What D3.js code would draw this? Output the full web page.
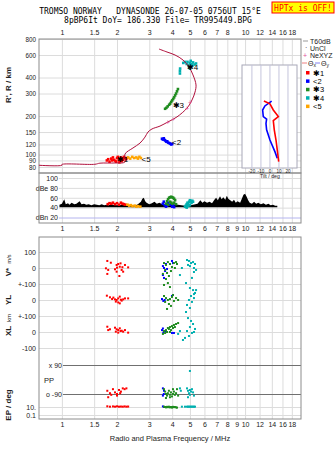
<!DOCTYPE html>
<html><head><meta charset="utf-8">
<script src="https://cdn.jsdelivr.net/npm/d3@7"></script>
<style>
body{margin:0;background:#fff}
svg{display:block;font-family:"Liberation Sans",Arial,sans-serif}
.tk text{font-size:7px;fill:#222}
.tk path{display:none}
.hy text{font-size:6.3px}
.grid line{stroke:#dcdcdc}
.grid path{display:none}
.mono{font-family:"DejaVu Sans Mono",monospace;white-space:pre;font-size:8px}
</style></head><body>
<svg width="335" height="451"></svg>
<script>
// tick labels
var topTicks = [1,1.5,2,3,4,5,6,7,8,10,12,14,16,18];
var botTicks = [1,1.5,2,3,4,5,6,7,8,9,10,12,14,16,18];
var hTicks = [80,90,100,120,150,200,300,400,600,800];
var dbTicks = [100,80,60,40,20];
var dbLabels = ["100","dBe 80","60","40","dBn 20"];
var tiltTicks = [-20,-10,0,10,20];

// real height profile (MHz, km)
var profileF = [0.749,1.0,1.0,1.514,1.613,1.948,2.21,2.21,2.443,2.669,2.842,2.951,3.103,3.432,3.795,4.25,4.822,5.133,5.331,5.398,5.197,4.943,4.584,4.145,3.748,3.389];
var profileH = [82.5,82.5,83.7,84.0,85.7,86.0,87.6,101,112.6,123,137,150,158.5,167,180,197,231,267,308,350,419,483,548,600,633,668];
var neXYZ = [[3.79,178],[4.05,188],[4.82,231],[5.0,255]];

// echoes, virtual range (MHz, km)
var echo1 = [[1.76,90],[1.79,92],[1.82,88],[1.86,93],[1.9,95],[1.93,91],[1.96,89],[2.0,94],[2.02,96],[2.05,92],[2.08,90],[2.1,95],[2.13,93],[2.16,91],[2.2,94],[2.24,92],[2.27,94],[1.98,88],[2.06,87],[2.12,89],[1.88,90],[2.18,96]];
var echo2 = [[3.52,133],[3.56,131],[3.6,134],[3.64,130],[3.68,128],[3.72,126],[3.76,127],[3.8,124],[3.85,123],[3.9,122],[3.95,120],[4.0,121]];
var echo3 = [[3.66,228],[3.72,232],[3.78,238],[3.85,245],[3.9,250],[3.95,258],[4.0,265],[4.05,272],[4.1,280],[4.15,290],[4.2,300],[4.25,312],[4.3,325]];
var echo4 = [[4.41,450],[4.41,430],[4.42,470],[4.6,520],[4.7,530],[4.8,510],[4.9,500],[5.0,520],[5.05,540],[5.1,510],[5.15,495],[5.2,525],[5.3,505],[5.4,515],[4.95,480],[5.0,470],[4.85,530]];
var echo5 = [[2.3,95],[2.36,93],[2.42,96],[2.48,94],[2.55,95],[2.6,93],[2.65,96],[2.7,94]];

// tilt (deg, km)
var thetaX = [[-6.7,262],[0,249],[3.7,223],[9.3,198],[3.7,184],[4.8,156],[6.7,130],[8.1,109],[9.7,88]];
var thetaY = [[1.9,262],[-5.6,240],[-8.1,223],[-7.4,198],[-3.7,189],[-4.4,175],[-3.7,156],[0,130],[5.6,105],[8.1,93.5]];

// noise (MHz, dB)
var noise = [[0.97,46],[1.0,48],[1.03,57],[1.05,47],[1.08,49],[1.1,46],[1.13,50],[1.17,47],[1.2,48],[1.25,53],[1.28,47],[1.32,48],[1.36,46],[1.4,47],[1.45,45],[1.5,47],[1.55,46],[1.6,45],[1.65,47],[1.7,45],[1.75,46],[1.8,45],[1.85,47],[1.9,46],[2.0,45],[2.1,46],[2.2,45],[2.3,44],[2.4,45],[2.5,44],[2.6,47],[2.7,52],[2.75,58],[2.8,60],[2.85,53],[2.9,50],[3.0,47],[3.1,49],[3.2,52],[3.3,48],[3.4,50],[3.5,48],[3.6,47],[3.8,46],[4.0,47],[4.3,46],[4.5,45],[4.7,44],[4.9,45],[5.2,46],[5.5,48],[5.7,55],[5.85,50],[6.0,53],[6.2,50],[6.4,52],[6.6,49],[6.8,56],[6.95,60],[7.1,55],[7.3,63],[7.45,57],[7.6,61],[7.8,56],[7.95,64],[8.1,58],[8.3,55],[8.5,52],[8.7,56],[8.9,50],[9.1,53],[9.4,50],[9.6,58],[9.8,66],[10.0,68],[10.2,62],[10.4,55],[10.6,50],[10.9,48],[11.2,52],[11.5,48],[11.8,50],[12.2,47],[12.6,49],[13.0,46],[13.4,48],[13.8,45],[14.2,46],[14.6,44],[15.0,44]];
var amp1 = [[1.78,47],[1.82,49],[1.86,48],[1.9,50],[1.95,47],[2.0,49],[2.05,46],[2.1,50],[2.14,48],[2.18,47],[2.22,46]];
var amp2 = [[3.56,48],[3.6,52],[3.64,45],[3.7,42],[3.75,44],[3.8,50],[3.9,46],[4.0,42],[4.05,44],[4.1,41]];
var amp3 = [[3.7,48],[3.75,53],[3.8,57],[3.85,60],[3.9,61],[3.95,62],[4.0,61],[4.05,60],[4.1,58],[4.15,55],[3.9,52],[3.95,50],[4.0,48],[4.1,50],[4.2,47],[3.8,46]];
var amp4 = [[4.7,42],[4.75,44],[4.8,47],[4.85,50],[4.9,48],[4.95,52],[5.0,55],[5.05,53],[5.1,50],[5.15,54],[5.2,52],[4.9,43],[5.0,45],[4.8,40]];
var amp5 = [[2.28,46],[2.33,44],[2.38,45],[2.43,43],[2.5,44],[2.55,42],[2.6,43],[2.68,42]];

// velocity V* (m/s), YL, XL (km)
var vel1 = [[1.77,44],[1.85,33],[1.74,-2],[1.79,-12],[1.77,-37],[1.95,-8],[1.99,19],[2.03,25],[2.07,8],[2.12,-12],[2.06,-50],[2.16,-23],[2.21,19],[2.30,4],[1.99,-23],[2.09,29],[2.0,2],[2.14,5]];
var vel2 = [[3.56,12],[3.61,0],[3.66,-19],[3.56,-44],[3.70,25],[3.99,44],[4.04,31],[3.61,-62],[3.75,-6]];
var vel3 = [[3.61,31],[3.70,19],[3.79,37],[3.89,25],[3.99,6],[4.09,31],[4.20,37],[3.66,-12],[3.75,-31],[3.84,-50],[3.94,-19],[3.70,-69],[3.79,-94],[3.89,-119],[3.61,-106],[4.14,0],[4.25,25],[3.56,-37]];
var vel4 = [[4.82,50],[4.94,44],[5.07,31],[5.20,37],[5.33,25],[5.00,12],[5.26,0],[5.40,-12],[4.52,0],[4.41,-44],[5.13,-62],[4.76,-94],[5.26,-25],[4.88,19]];
var yl1 = [[1.76,27],[1.83,17],[1.91,15],[1.95,4],[1.99,0],[2.03,10],[2.07,21],[2.12,-4],[2.16,4],[2.21,10],[2.30,10],[2.07,-21],[1.97,-10],[2.03,-15],[2.1,2],[1.88,6]];
var yl2 = [[3.52,6],[3.58,-6],[3.64,0],[4.04,31],[3.99,25]];
var yl3 = [[3.61,25],[3.70,12],[3.79,0],[3.89,6],[3.99,19],[4.09,-6],[4.20,12],[3.66,-12],[3.84,-25],[3.94,-37],[3.75,-56],[4.04,31],[4.31,0]];
var yl4 = [[5.00,75],[5.20,62],[5.33,44],[5.07,25],[5.26,12],[4.94,0],[5.13,-12],[4.82,-31],[5.00,-50],[4.76,-75],[5.26,37],[5.40,62]];
var xl1 = [[1.77,33],[1.83,17],[1.79,12],[1.95,27],[1.99,17],[2.03,12],[2.07,23],[2.12,8],[2.16,2],[2.21,12],[2.30,-4],[2.03,-4],[1.97,2],[2.09,6]];
var xl2 = [[3.52,12],[3.58,-4],[3.66,6],[3.99,-6],[4.09,-6],[3.56,22]];
var xl3 = [[3.61,6],[3.70,12],[3.79,25],[3.89,31],[3.99,37],[4.09,44],[4.20,50],[4.31,56],[3.66,-6],[3.75,0],[3.84,19],[3.94,12],[4.04,25],[4.14,31],[3.56,-12],[3.89,0]];
var xl4 = [[4.88,87],[5.07,69],[5.20,50],[5.00,31],[5.33,19],[4.82,6],[5.13,-6],[4.94,-25],[4.70,-37],[4.58,-50],[4.41,6],[4.31,-12],[5.26,0]];

// polarization PP (deg) and EP (deg)
var pp1 = [[1.77,-70],[1.83,-85],[1.9,-60],[1.95,-80],[2.0,-90],[2.05,-65],[2.1,-75],[2.15,-55],[2.2,-60],[2.25,-55],[1.79,-110],[2.0,-100],[1.86,-95],[2.08,-85]];
var pp2 = [[3.56,-55],[3.61,-70],[3.56,-100],[3.6,-90]];
var pp3 = [[3.61,-60],[3.66,-75],[3.70,-90],[3.75,-100],[3.79,-85],[3.84,-70],[3.89,-95],[3.94,-80],[3.99,-105],[4.04,-90],[4.09,-75],[4.14,-95],[4.20,-85],[4.25,-60],[4.31,-100],[3.70,-115],[3.89,-110],[4.04,-60]];
var pp4 = [[4.41,-55],[4.46,-70],[4.82,-55],[4.88,-70],[4.94,-85],[5.0,-95],[5.07,-75],[5.13,-60],[5.2,-80],[5.26,-100],[4.88,-110],[5.0,-65],[5.0,53]];
var ep1 = [[1.77,15],[1.83,12],[1.9,14],[1.95,12],[2.0,15],[2.05,12],[2.1,13],[2.15,12],[2.2,14],[2.25,12],[2.3,13]];
var ep2 = [[3.56,14],[3.61,10]];
var ep3 = [[3.61,12],[3.66,10],[3.70,8],[3.75,11],[3.79,9],[3.84,12],[3.89,8],[3.94,10],[3.99,7],[4.04,11],[4.09,9],[4.14,10],[4.20,8],[4.25,7]];
var ep4 = [[4.52,12],[4.70,12],[4.82,12],[4.88,12],[4.94,12],[5.0,12],[5.07,12],[5.13,12],[5.2,12],[5.26,12],[5.33,12]];

var modeNames = ["✱1","<2","✱3","✱4","<5"];
var modeColors = ["#ff0000","#0000ff","#1f8c1f","#00b0b0","#ffa500"];

var svg = d3.select("svg");
var L = 39, R = 301;

var x = d3.scaleLog().domain([0.75, 20.2]).range([L, R]);
var yH = d3.scaleLog().domain([71.8, 800]).range([173, 39]);
var yDb = d3.scaleLinear().domain([100, 20]).range([178, 217.5]);
var yV = d3.scaleLinear().domain([100, -100]).range([252, 284]);
var yY = d3.scaleLinear().domain([100, -100]).range([284, 316]);
var yX = d3.scaleLinear().domain([100, -100]).range([316, 348]);
var yPP = d3.scaleLinear().domain([90, -90]).range([365, 394]);
var yEP = d3.scaleLog().domain([10, 0.1]).range([407, 415]);
var xT = d3.scaleLinear().domain([-31, 30]).range([242, 297]);

// vertical grids
[[39,134],[173,50],[237,182]].forEach(function(p) {
  svg.append("g").attr("class","grid")
    .attr("transform","translate(0,"+p[0]+")")
    .call(d3.axisBottom(x).tickValues(botTicks).tickSize(p[1]).tickFormat(""));
});

// top panel horizontal grid + labels
svg.append("g").attr("class","grid tk hy")
  .attr("transform","translate("+L+",0)")
  .call(d3.axisLeft(yH).tickValues(hTicks).tickSize(-(R-L)).tickPadding(3).tickFormat(d3.format("d")));

// dB panel
var gdb = svg.append("g").attr("class","grid tk")
  .attr("transform","translate(59,0)")
  .call(d3.axisLeft(yDb).tickValues(dbTicks).tickSize(-(R-59)).tickPadding(1)
    .tickFormat(function(d,i){ return dbLabels[i]; }));
gdb.selectAll("line").filter(function(d){ return d == 20; }).style("stroke","#b4b4ee");

// velocity panel grids
function lowAxis(sc, vals, labs) {
  svg.append("g").attr("class","grid tk")
    .attr("transform","translate("+L+",0)")
    .call(d3.axisLeft(sc).tickValues(vals).tickSize(-(R-L)).tickPadding(3)
      .tickFormat(function(d,i){ return labs[i]; }));
}
lowAxis(yV, [100,0], ["100","0"]);
lowAxis(yY, [100,0], ["+-100","0"]);
lowAxis(yX, [100,0,-100], ["+-100","0","-100"]);
lowAxis(yEP, [10,0.1], ["10.","0.1"]);

var gpp = svg.append("g").attr("class","tk")
  .attr("transform","translate(63,0)")
  .call(d3.axisLeft(yPP).tickValues([90,-90]).tickSize(-(R-63)).tickPadding(1)
    .tickFormat(function(d){ return d > 0 ? "x 90" : "o -90"; }));
gpp.selectAll("line").style("stroke","#707070");

// frames
[[39,173],[173,223],[237,419]].forEach(function(p) {
  svg.append("rect").attr("x",L).attr("y",p[0]).attr("width",R-L).attr("height",p[1]-p[0])
    .attr("fill","none").attr("stroke","#8c8c8c");
});

// frequency labels
svg.append("g").attr("class","tk").attr("transform","translate(0,39)")
  .call(d3.axisTop(x).tickValues(topTicks).tickSize(0).tickPadding(4).tickFormat(function(d){ return d; }));
[223, 419].forEach(function(yy) {
  svg.append("g").attr("class","tk").attr("transform","translate(0,"+yy+")")
    .call(d3.axisBottom(x).tickValues(botTicks).tickSize(0).tickPadding(3).tickFormat(function(d){ return d; }));
});

// tilt inset
var inset = svg.append("g");
inset.append("rect").attr("x",xT(-31)).attr("y",65).attr("width",xT(30)-xT(-31)).attr("height",103)
  .attr("fill","#fff").attr("stroke","#a8a8b8");
inset.selectAll("line.tg").data(tiltTicks).enter().append("line")
  .attr("x1",function(d){ return xT(d); }).attr("x2",function(d){ return xT(d); })
  .attr("y1",65).attr("y2",168).attr("stroke","#c4c4dc");
inset.selectAll("text.tl").data(tiltTicks).enter().append("text")
  .attr("x",function(d){ return xT(d); }).attr("y",172.5).attr("text-anchor","middle")
  .attr("font-size",4.6).attr("fill","#222").text(function(d){ return d; });
inset.append("text").attr("x",xT(0)).attr("y",178).attr("text-anchor","middle")
  .attr("font-size",5.2).attr("fill","#222").text("Tilt / deg");
var tiltLine = d3.line().x(function(d){ return xT(d[0]); }).y(function(d){ return yH(d[1]); });
inset.append("path").attr("d",tiltLine(thetaY)).attr("fill","none").attr("stroke","#0000ff").attr("stroke-width",1.6);
inset.append("path").attr("d",tiltLine(thetaX)).attr("fill","none").attr("stroke","#ff0000").attr("stroke-width",1.6);

// echo dots helper
function dots(data, ys, col, sz) {
  sz = sz || 2;
  svg.append("g").selectAll("rect").data(data).enter().append("rect")
    .attr("x",function(d){ return x(d[0]) - sz/2; })
    .attr("y",function(d){ return ys(d[1]) - sz/2; })
    .attr("width",sz).attr("height",sz).attr("fill",col);
}

// top panel echoes
var echoes = [echo1, echo2, echo3, echo4, echo5];
echoes.forEach(function(e, i){ dots(e, yH, modeColors[i], 2.6); });

// profile curve
var prof = profileF.map(function(f, i){ return [f, profileH[i]]; });
svg.append("path")
  .attr("d", d3.line().x(function(d){ return x(d[0]); }).y(function(d){ return yH(d[1]); }).curve(d3.curveCatmullRom)(prof))
  .attr("fill","none").attr("stroke","#b0103c").attr("stroke-width",1);
svg.selectAll("text.ne").data(neXYZ).enter().append("text")
  .attr("x",function(d){ return x(d[0]); }).attr("y",function(d){ return yH(d[1]) + 2.5; })
  .attr("text-anchor","middle").attr("font-size",7).attr("fill","#e0509a").text("+");

// mode labels
var modeLab = [[1.99,87,"✱1"],[3.99,118,"<2"],[4.02,230,"✱3"],[4.8,455,"✱4"],[2.72,88,"<5"]];
svg.selectAll("text.ml").data(modeLab).enter().append("text")
  .attr("x",function(d){ return x(d[0]); }).attr("y",function(d){ return yH(d[1]); })
  .attr("font-size",8).attr("fill","#000").text(function(d){ return d[2]; });

// noise + amplitudes
svg.append("path")
  .attr("d", d3.area().x(function(d){ return x(d[0]); }).y0(yDb(41)).y1(function(d){ return yDb(d[1]); })(noise))
  .attr("fill","#000");
[amp1, amp2, amp3, amp4, amp5].forEach(function(a, i){ dots(a, yDb, modeColors[i], 2.6); });

// lower panel
[[vel1,yl1,xl1,pp1,ep1],[vel2,yl2,xl2,pp2,ep2],[vel3,yl3,xl3,pp3,ep3],[vel4,yl4,xl4,pp4,ep4]].forEach(function(s, i){
  dots(s[0], yV, modeColors[i]);
  dots(s[1], yY, modeColors[i]);
  dots(s[2], yX, modeColors[i]);
  dots(s[3], yPP, modeColors[i]);
  dots(s[4], yEP, modeColors[i]);
});

// left titles
function vlab(tx, yy, sz, bold) {
  svg.append("text").attr("transform","translate(11,"+yy+") rotate(-90)")
    .attr("text-anchor","middle").attr("font-size",sz).attr("font-weight",bold ? "bold" : "normal")
    .attr("fill","#222").text(tx);
}
vlab("R', R / km", 85, 8, true);
vlab("V*", 272, 8, true);
vlab("m/s", 259, 5.5, false);
vlab("YL", 300, 8, true);
vlab("km", 318, 6, false);
vlab("XL", 331, 8, true);
vlab("EP / deg", 405, 8, true);
svg.append("text").attr("x",44).attr("y",383).attr("font-size",7.5).attr("fill","#222").text("PP");

svg.append("text").attr("x",170).attr("y",441).attr("text-anchor","middle")
  .attr("font-size",7.5).attr("fill","#222").text("Radio and Plasma Frequency / MHz");

// title
svg.append("text").attr("class","mono").attr("x",150).attr("y",14).attr("text-anchor","middle")
  .text("TROMSO NORWAY   DYNASONDE 26-07-05 0756UT 15°E");
svg.append("text").attr("class","mono").attr("x",158).attr("y",22.5).attr("text-anchor","middle")
  .text("8pBP6It DoY= 186.330 File= TR995449.BPG");
svg.append("rect").attr("x",272).attr("y",2).attr("width",62).attr("height",11)
  .attr("fill","#ffff00").attr("stroke","#ff0000");
svg.append("text").attr("class","mono").attr("x",303).attr("y",10.5).attr("text-anchor","middle")
  .attr("fill","#ff0000").text("HPTx is OFF!");

// legend
var lg = svg.append("g").attr("font-size",7).attr("fill","#222");
lg.append("line").attr("x1",303).attr("x2",308).attr("y1",41).attr("y2",41).attr("stroke","#999");
lg.append("text").attr("x",310).attr("y",43.5).text("T60dB");
lg.append("text").attr("x",305).attr("y",50).text("·");
lg.append("text").attr("x",310).attr("y",50.5).text("UnCl");
lg.append("text").attr("x",303).attr("y",58).attr("fill","#e0509a").text("+");
lg.append("text").attr("x",310).attr("y",58).text("NeXYZ");
lg.append("line").attr("x1",302).attr("x2",307).attr("y1",63).attr("y2",63).attr("stroke","#f08080");
var tx1 = lg.append("text").attr("x",308).attr("y",65.5).text("Θ");
tx1.append("tspan").attr("font-size",5).attr("dy",1).text("x");
lg.append("line").attr("x1",315).attr("x2",320).attr("y1",63).attr("y2",63).attr("stroke","#8080f0");
var tx2 = lg.append("text").attr("x",321).attr("y",65.5).text("Θ");
tx2.append("tspan").attr("font-size",5).attr("dy",1).text("y");
modeNames.forEach(function(n, i){
  var yy = 73 + i*8.4;
  lg.append("rect").attr("x",306).attr("y",yy-2).attr("width",3.5).attr("height",3.5).attr("fill",modeColors[i]);
  lg.append("text").attr("x",313).attr("y",yy+2.5).attr("font-size",7.5).attr("fill","#000").text(n);
});
</script>
</body></html>
